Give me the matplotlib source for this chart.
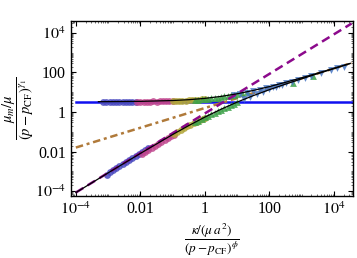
import numpy as np
import matplotlib
matplotlib.use("Agg")
import matplotlib.pyplot as plt
from matplotlib.ticker import LogLocator, FixedLocator, FixedFormatter, NullFormatter

plt.rcParams['font.family'] = ['Liberation Serif', 'DejaVu Serif']
plt.rcParams['mathtext.fontset'] = 'stix'

# guide lines
line_x = [1e-4, 3.5e4]
plateau_y = [3.3, 3.3]
linear_y = [8.5e-5, 2.98e4]        # slope 1
sqrt_y = [0.016, 299.0]            # slope 1/2

# black crossover curves
curve_x = [1e-4, 1e-3, 1e-2, 0.1, 0.316, 1.0, 3.16, 10.0, 31.6, 100.0, 316.0, 1000.0, 3162.0, 1e4, 3.16e4]
lower_y = [8.46e-5, 8.36e-4, 8.07e-3, 0.0728, 0.207, 0.556, 1.38, 3.18, 6.75, 13.5, 25.8, 47.9, 87.3, 157.0, 282.0]
upper_x = [5e-4, 1e-3, 1e-2, 0.1, 0.316, 1.0, 3.16, 10.0, 31.6, 100.0, 316.0, 1000.0, 3162.0, 1e4, 3.16e4]
upper_y = [3.33, 3.35, 3.46, 3.81, 4.2, 4.9, 6.15, 8.36, 12.3, 19.3, 31.8, 53.9, 93.3, 163.0, 288.0]

# simulation data, one list pair per series
blue_up_x = [7.1e-4, 8.9e-4, 1.12e-3, 1.41e-3, 1.78e-3, 2.24e-3, 2.82e-3, 3.55e-3, 4.47e-3, 5.62e-3, 7.08e-3]
blue_up_y = [3.3, 3.25, 3.35, 3.3, 3.28, 3.36, 3.3, 3.26, 3.34, 3.3, 3.32]
blue_lo_x = [9e-4, 1.12e-3, 1.41e-3, 1.78e-3, 2.24e-3, 2.82e-3, 3.55e-3, 4.47e-3, 5.62e-3, 7.08e-3, 8.9e-3, 0.0112, 0.0141, 0.0178]
blue_lo_y = [6.8e-4, 8.8e-4, 1.15e-3, 1.45e-3, 1.85e-3, 2.35e-3, 2.95e-3, 3.8e-3, 4.7e-3, 6.0e-3, 7.6e-3, 9.5e-3, 0.012, 0.0148]

pink_up_x = [7.9e-3, 0.01, 0.0126, 0.0158, 0.02, 0.0251, 0.0316, 0.0398, 0.0501, 0.0631, 0.0794, 0.1]
pink_up_y = [3.3, 3.35, 3.32, 3.4, 3.36, 3.42, 3.4, 3.45, 3.5, 3.48, 3.55, 3.6]
pink_lo_x = [0.0112, 0.0141, 0.0178, 0.0224, 0.0282, 0.0355, 0.0447, 0.0562, 0.0708, 0.089, 0.112]
pink_lo_y = [7.5e-3, 9.5e-3, 0.012, 0.0152, 0.019, 0.024, 0.03, 0.038, 0.047, 0.059, 0.073]

olive_up_x = [0.1, 0.126, 0.158, 0.2, 0.251, 0.316, 0.398, 0.501, 0.631, 0.794, 1.0]
olive_up_y = [3.6, 3.62, 3.7, 3.75, 3.8, 3.9, 3.95, 4.05, 4.2, 4.3, 4.5]
olive_lo_x = [0.112, 0.141, 0.178, 0.224, 0.282, 0.355, 0.447, 0.562, 0.708, 0.89, 1.0]
olive_lo_y = [0.08, 0.1, 0.124, 0.152, 0.186, 0.225, 0.27, 0.32, 0.38, 0.45, 0.5]

green_up_x = [0.5, 0.631, 0.794, 1.0, 1.26, 1.58, 2.0, 2.51, 3.16, 3.98, 5.01, 6.31, 7.94, 10.0, 14.0, 20.0, 540.0, 2240.0]
green_up_y = [4.1, 4.2, 4.35, 4.5, 4.7, 4.9, 5.15, 5.4, 5.75, 6.1, 6.5, 7.0, 7.5, 8.0, 8.9, 10.0, 30.0, 66.0]
green_lo_x = [0.5, 0.631, 0.794, 1.0, 1.26, 1.58, 2.0, 2.51, 3.16, 3.98, 5.01, 6.31, 7.94, 10.0]
green_lo_y = [0.3, 0.37, 0.45, 0.54, 0.65, 0.78, 0.93, 1.1, 1.3, 1.55, 1.85, 2.2, 2.6, 3.1]

tri_up_x = [7.9, 12.6, 20.0, 31.6, 50.1, 79.4, 126.0, 200.0, 316.0, 501.0, 794.0, 1260.0, 2000.0, 3980.0, 7940.0, 1.26e4, 2.0e4]
tri_up_y = [7.2, 8.3, 9.6, 11.2, 13.2, 15.8, 19.0, 23.0, 28.0, 34.0, 42.0, 52.0, 65.0, 90.0, 128.0, 160.0, 200.0]
tri_lo_x = [15.8, 25.1, 39.8, 63.1, 100.0, 158.0, 251.0]
tri_lo_y = [4.5, 6.0, 8.0, 10.5, 13.8, 18.0, 23.5]

fig = plt.figure(figsize=(3.57, 2.58), dpi=100)
ax = fig.add_axes([0.198, 0.24, 0.79, 0.68])

ax.plot(line_x, plateau_y, color='#1010f0', lw=1.8, zorder=1)
ax.plot(line_x, sqrt_y, color='#b07a3a', lw=1.8, ls=(0, (3, 1.5, 1.2, 1.5)), zorder=2)

ms = 24
ax.scatter(blue_up_x + blue_lo_x, blue_up_y + blue_lo_y, s=ms, color='#4a4ac0', alpha=0.85, lw=0, zorder=3)
ax.scatter(pink_up_x + pink_lo_x, pink_up_y + pink_lo_y, s=ms, color='#c0468e', alpha=0.85, lw=0, zorder=3)
ax.scatter(olive_up_x + olive_lo_x, olive_up_y + olive_lo_y, s=ms, color='#b2a63a', alpha=0.85, lw=0, zorder=3)
ax.scatter(green_up_x + green_lo_x, green_up_y + green_lo_y, s=ms, marker='^', color='#3ea24a', alpha=0.85, lw=0, zorder=3)
ax.scatter(tri_up_x + tri_lo_x, tri_up_y + tri_lo_y, s=ms, marker='v', color='#4a78c4', alpha=0.85, lw=0, zorder=3)

ax.plot(line_x, linear_y, color='#8c0a8c', lw=1.8, ls=(0, (3.5, 2)), zorder=4)
ax.plot(curve_x, lower_y, color='black', lw=0.9, zorder=5)
ax.plot(upper_x, upper_y, color='black', lw=0.9, zorder=5)

ax.set_xscale('log')
ax.set_yscale('log')
ax.set_xlim(10 ** -4.16, 10 ** 4.58)
ax.set_ylim(10 ** -4.25, 10 ** 4.62)

ticks = [1e-4, 1e-2, 1, 1e2, 1e4]
labels = ['$10^{-4}$', '0.01', '1', '100', '$10^{4}$']
for axis in (ax.xaxis, ax.yaxis):
    axis.set_major_locator(FixedLocator(ticks))
    axis.set_major_formatter(FixedFormatter(labels))
    axis.set_minor_locator(LogLocator(base=10, subs=np.arange(1, 10), numticks=30))
    axis.set_minor_formatter(NullFormatter())

ax.tick_params(which='both', direction='in', top=True, right=True, labelsize=11.5)
ax.tick_params(which='major', length=3.5, width=0.8)
ax.tick_params(which='minor', length=1.2, width=0.4)
for sp in ax.spines.values():
    sp.set_linewidth(1.0)

ax.set_ylabel(r'$\dfrac{\mu_m/\mu}{(p-p_{\rm CF})^{\gamma_1}}$', fontsize=10.5, labelpad=-1)
ax.set_xlabel(r'$\dfrac{\kappa/(\mu\,a^2)}{(p-p_{\rm CF})^{\phi}}$', fontsize=9.5, labelpad=3)

fig.savefig('out.png', dpi=100)
